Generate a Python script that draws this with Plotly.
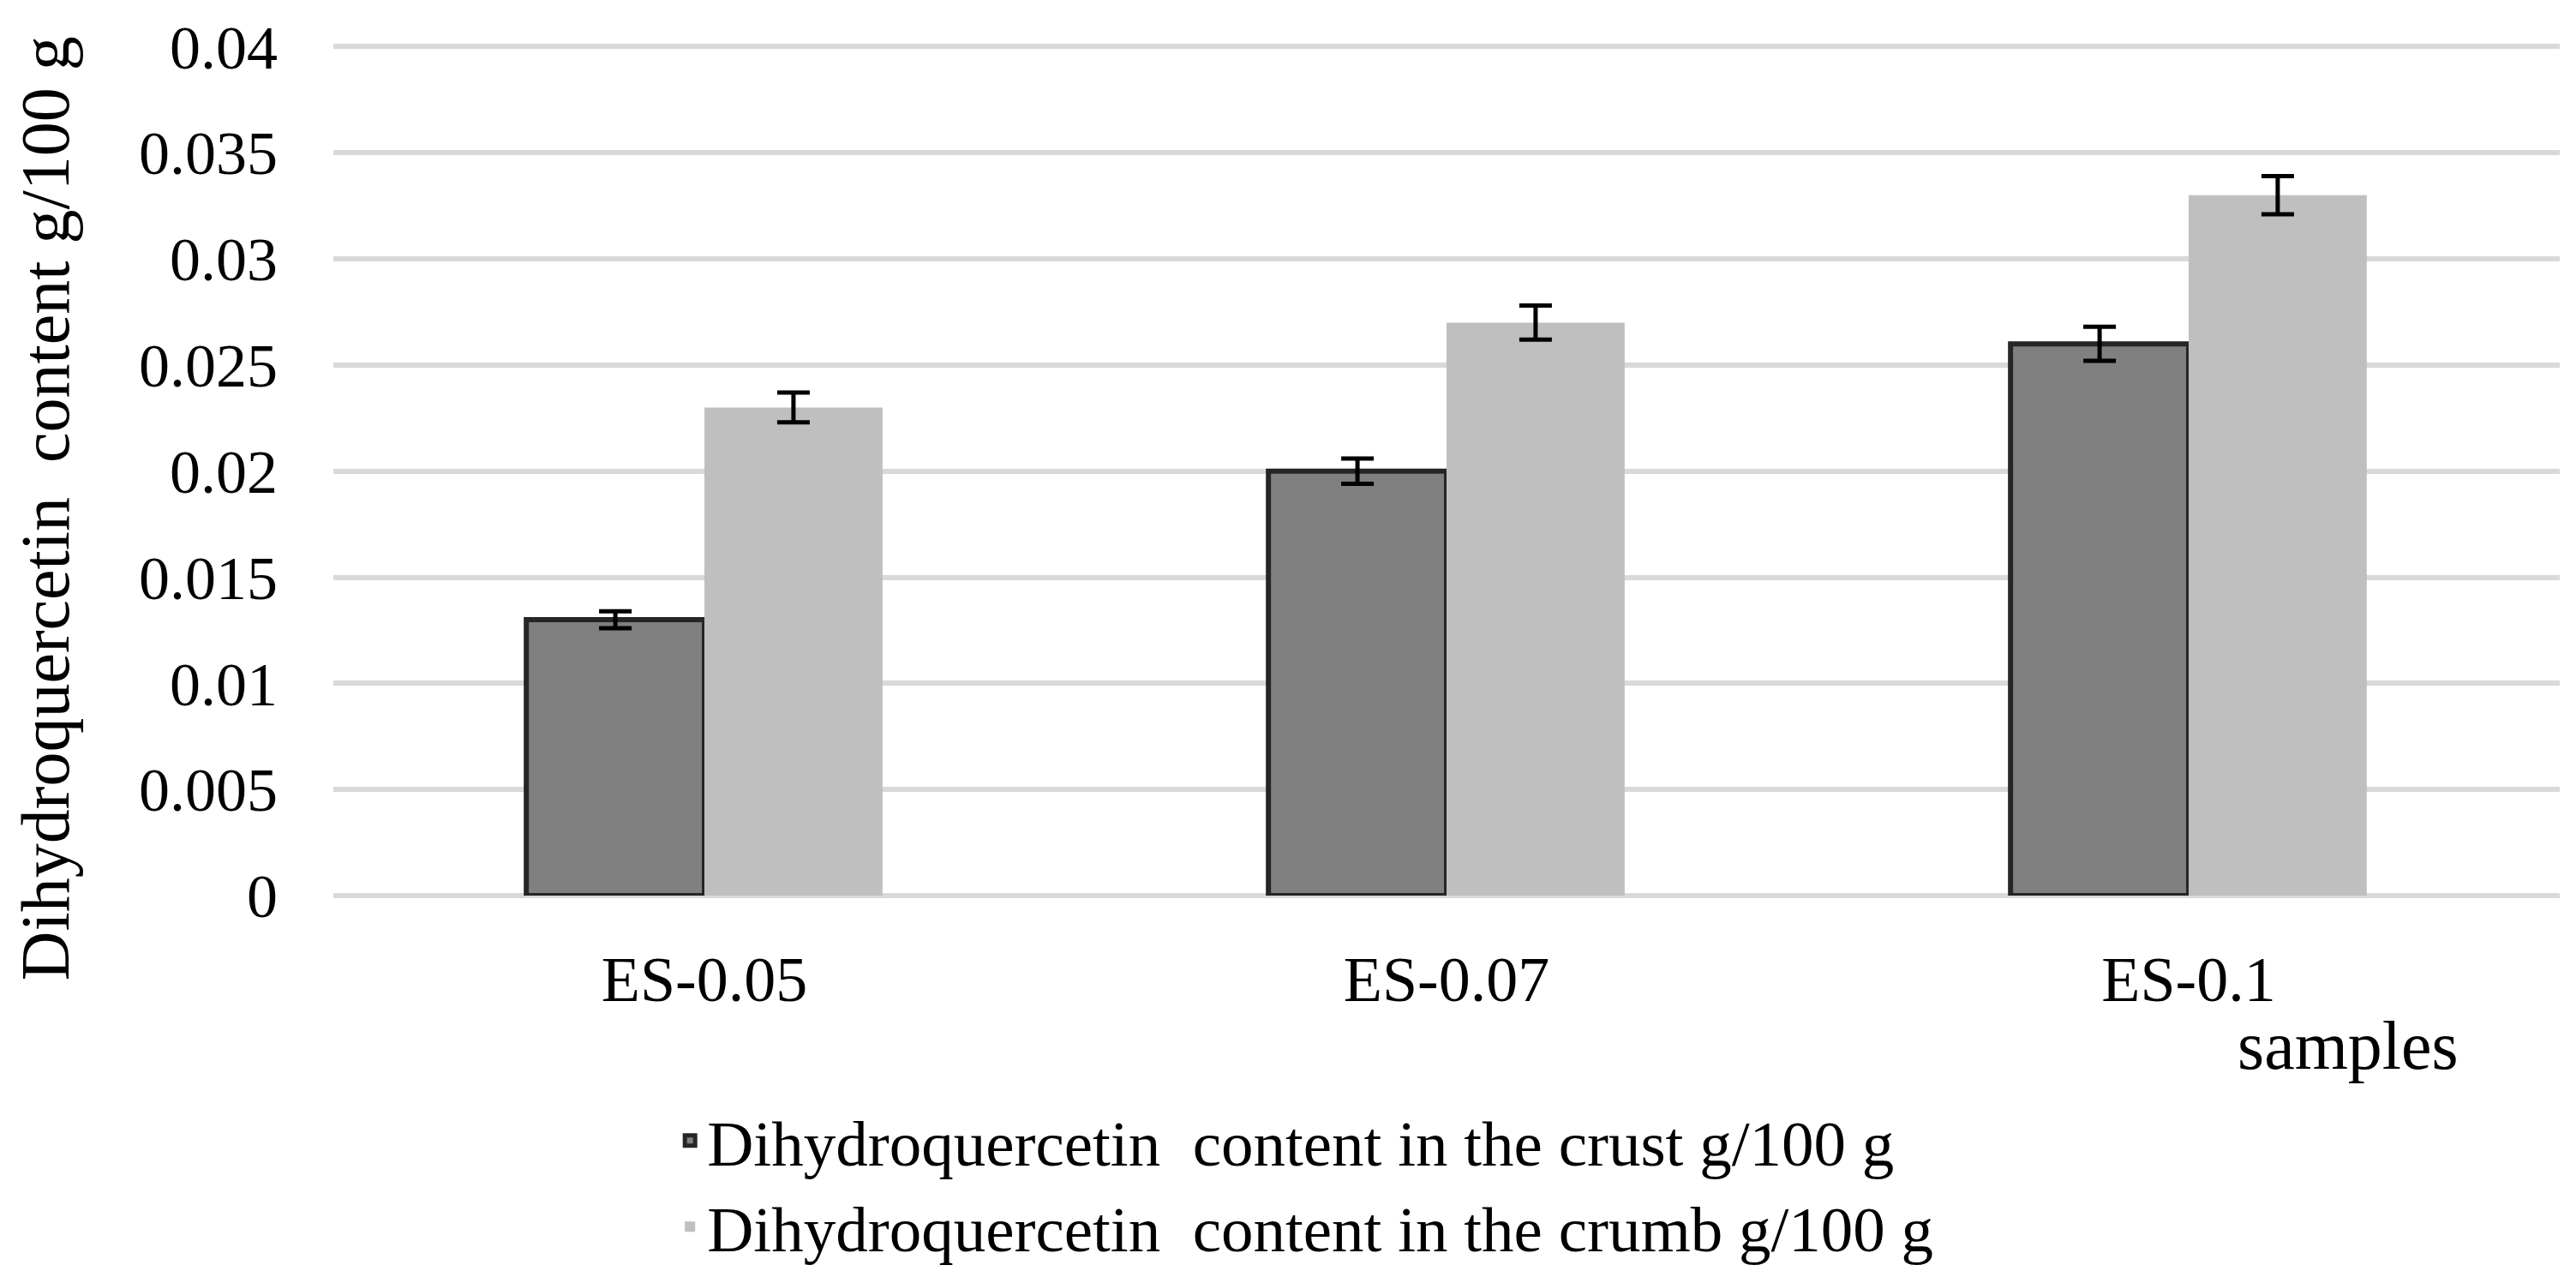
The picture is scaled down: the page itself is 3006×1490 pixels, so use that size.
import plotly.graph_objects as go

categories = ["ES-0.05", "ES-0.07", "ES-0.1"]
crust = [0.013, 0.020, 0.026]
crust_err = [0.0004, 0.0006, 0.0008]
crumb = [0.023, 0.027, 0.033]
crumb_err = [0.0007, 0.0008, 0.0009]
series_names = [
    "Dihydroquercetin\u00a0 content in the crust g/100 g",
    "Dihydroquercetin\u00a0 content in the crumb g/100 g",
]
y_tickvals = [0, 0.005, 0.01, 0.015, 0.02, 0.025, 0.03, 0.035, 0.04]
y_ticktext = ["0", "0.005", "0.01", "0.015", "0.02", "0.025", "0.03", "0.035", "0.04"]
y_title = "Dihydroquercetin\u00a0 content g/100 g"
x_title = "samples"

FONT = "Liberation Serif, Times New Roman, serif"

fig = go.Figure()
fig.add_trace(go.Bar(
    x=categories, y=crust, name=series_names[0],
    marker=dict(color="#808080", line=dict(color="#262626", width=6)),
    error_y=dict(type="data", array=crust_err, color="black", thickness=5, width=19),
))
fig.add_trace(go.Bar(
    x=categories, y=crumb, name=series_names[1],
    marker=dict(color="#BFBFBF", line=dict(width=0)),
    error_y=dict(type="data", array=crumb_err, color="black", thickness=5, width=19),
))

fig.update_layout(
    width=3006, height=1490,
    margin=dict(l=381, r=27, t=44, b=443),
    paper_bgcolor="white", plot_bgcolor="white",
    barmode="group", bargap=0.52, bargroupgap=0,
    font=dict(family=FONT, color="black", size=74),
    showlegend=True,
    legend=dict(
        orientation="v", x=0.1525, xanchor="left", y=-0.232, yanchor="top",
        font=dict(family=FONT, size=75, color="black"),
        bgcolor="rgba(0,0,0,0)", tracegroupgap=0,
    ),
    xaxis=dict(
        showline=False, ticks="", showgrid=False, automargin=False,
        tickfont=dict(family=FONT, size=74, color="black"),
        ticklabelstandoff=48,
    ),
    yaxis=dict(
        range=[0, 0.0401], tickvals=y_tickvals, ticktext=y_ticktext,
        showgrid=True, gridcolor="#D9D9D9", gridwidth=6,
        zeroline=True, zerolinecolor="#D9D9D9", zerolinewidth=6,
        showline=False, ticks="", automargin=False,
        tickfont=dict(family=FONT, size=72, color="black"),
        ticklabelstandoff=64,
    ),
    annotations=[
        dict(
            text=x_title, xref="paper", yref="paper", x=0.905, y=-0.176,
            xanchor="center", yanchor="middle", showarrow=False,
            font=dict(family=FONT, size=80, color="black"),
        ),
        dict(
            text=y_title, xref="paper", yref="paper", x=-0.1293, y=0.455,
            xanchor="center", yanchor="middle", showarrow=False, textangle=-90,
            font=dict(family=FONT, size=80, color="black"),
        ),
    ],
)

fig.write_html("out.html")
